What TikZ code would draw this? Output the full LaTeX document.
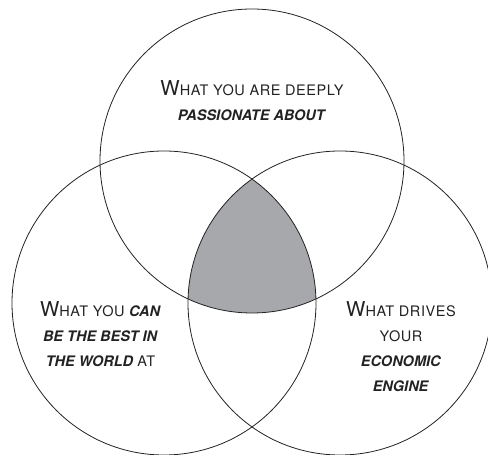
\documentclass[tikz,border=0pt]{standalone}
\usepackage{fontspec}
\setmainfont{TeX Gyre Heros}
\newcommand\capW{{\fontsize{20.5}{25}\selectfont W}}
\newcommand\rs[1]{{\addfontfeature{LetterSpace=4}#1}}
\newcommand\bi[1]{\textbf{\textit{#1}}}
\definecolor{coregray}{HTML}{A7A8AB}
\definecolor{ink}{HTML}{222222}
\begin{document}
\begin{tikzpicture}[x=1pt,y=1pt,
  ring/.style={circle, draw=ink, line width=0.8pt, minimum size=304pt, inner sep=0pt},
  label/.style={align=center, font=\fontsize{14.5}{25}\selectfont, text=ink, inner sep=0pt, anchor=base}]
\useasboundingbox (0,0) rectangle (488,455);
\coordinate (cT) at (252,294);
\coordinate (cL) at (164,152);
\coordinate (cR) at (340,152);
\begin{scope}
  \clip (cT) circle (152);
  \clip (cL) circle (152);
  \fill[coregray] (cR) circle (152);
\end{scope}
\node[ring] (top) at (cT) {};
\node[ring] (left) at (cL) {};
\node[ring] (right) at (cR) {};
% anchor=base of a multi-line node is the baseline of its last line
\node[label] (ttop) at (252,334.3) {\capW\rs{HAT YOU ARE DEEPLY}\\ \bi{PASSIONATE ABOUT}};
\node[label] (tleft) at (100.5,88.5) {\capW\rs{HAT YOU} \bi{CAN}\\ \bi{BE THE BEST IN}\\ \bi{THE WORLD} \rs{AT}};
\node[label] (tright) at (401,63.5) {\capW\rs{HAT DRIVES}\\ \rs{YOUR}\\ \bi{ECONOMIC}\\ \bi{ENGINE}};
\end{tikzpicture}
\end{document}
